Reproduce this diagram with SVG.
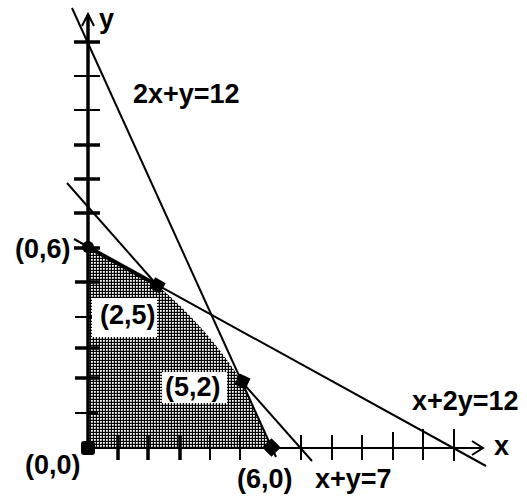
<svg xmlns="http://www.w3.org/2000/svg" width="527" height="502" viewBox="0 0 527 502">
<defs>
<pattern id="dots" width="3" height="3" patternUnits="userSpaceOnUse">
<rect width="3" height="3" fill="#000"/>
<rect x="1" y="1" width="1.8" height="1.8" fill="#fff"/>
</pattern>
<style>
text{font-family:"Liberation Sans",Arial,sans-serif;font-weight:bold;font-size:27px;fill:#000}
.ln{stroke:#000;stroke-width:2;fill:none}
.tk{stroke:#000;stroke-width:2}
.tkb{stroke:#000;stroke-width:3.5}
.pt{fill:#000}
</style>
</defs>
<rect width="527" height="502" fill="#fff"/>
<g id="region">
<path d="M88,448 L88,247 L157,285 Q207,327 242,382 L272,448 Z" fill="url(#dots)"/>
<path d="M88,247 L157,285" stroke="#000" stroke-width="4" fill="none"/>
</g>
<g id="axes">
<line x1="88" y1="448" x2="88" y2="15" stroke="#000" stroke-width="3.5"/>
<path d="M82,26 L88,14 L94,26" class="ln"/>
<line x1="88" y1="448" x2="483" y2="448" stroke="#000" stroke-width="2"/>
<path d="M472,441 L483,448 L472,455" class="ln"/>
<line class="tkb" x1="74" y1="42" x2="100" y2="42"/>
<line class="tk" x1="74" y1="76" x2="100" y2="76"/>
<line class="tk" x1="74" y1="110" x2="100" y2="110"/>
<line class="tkb" x1="74" y1="145" x2="100" y2="145"/>
<line class="tkb" x1="74" y1="179" x2="100" y2="179"/>
<line class="tkb" x1="74" y1="213" x2="100" y2="213"/>
<line class="tkb" x1="74" y1="248" x2="100" y2="248"/>
<line class="tkb" x1="75" y1="282" x2="100" y2="282"/>
<line class="tk" x1="75" y1="317" x2="98" y2="317"/>
<line class="tkb" x1="75" y1="348" x2="100" y2="348"/>
<line class="tkb" x1="75" y1="378" x2="100" y2="378"/>
<line class="tk" x1="75" y1="413" x2="98" y2="413"/>
<line class="tkb" x1="118" y1="436" x2="118" y2="460"/>
<line class="tkb" x1="148" y1="436" x2="148" y2="460"/>
<line class="tkb" x1="180" y1="436" x2="180" y2="460"/>
<line class="tk" x1="210" y1="436" x2="210" y2="460"/>
<line class="tk" x1="240" y1="436" x2="240" y2="460"/>
<line class="tk" x1="301" y1="435" x2="301" y2="460"/>
<line class="tk" x1="332" y1="435" x2="332" y2="460"/>
<line class="tk" x1="362" y1="435" x2="362" y2="460"/>
<line class="tk" x1="393" y1="432" x2="393" y2="460"/>
<line class="tk" x1="423" y1="429" x2="423" y2="460"/>
<line class="tk" x1="454" y1="429" x2="454" y2="461"/>
<text x="99" y="28">y</text>
<text x="494" y="455">x</text>
</g>
<g id="connectors">
<line class="ln" x1="72" y1="8" x2="276" y2="457"/>
<line class="ln" x1="67" y1="183" x2="157" y2="285"/>
<line class="ln" x1="242" y1="382" x2="312" y2="461"/>
<line class="ln" x1="74" y1="239" x2="486" y2="466"/>
<text x="133" y="103">2x+y=12</text>
<text x="315" y="488">x+y=7</text>
<text x="412" y="410">x+2y=12</text>
</g>
<g id="p00">
<rect class="pt" x="81" y="441" width="14" height="14" rx="3"/>
<text x="25" y="474">(0,0)</text>
</g>
<g id="p06">
<circle class="pt" cx="88" cy="247" r="6"/>
<text x="15" y="258">(0,6)</text>
</g>
<g id="p25">
<rect class="pt" x="151.5" y="279.5" width="12" height="12" transform="rotate(30 157.5 285.5)"/>
<rect x="92" y="298" width="65" height="39" fill="#fff"/>
<text x="100" y="324">(2,5)</text>
</g>
<g id="p52">
<rect class="pt" x="236.5" y="375.5" width="12" height="12" transform="rotate(25 242.5 381.5)"/>
<rect x="162" y="372" width="65" height="31" fill="#fff"/>
<text x="165" y="396">(5,2)</text>
</g>
<g id="p60">
<rect class="pt" x="265" y="441" width="13" height="13" transform="rotate(45 271.5 447.5)"/>
<text x="237" y="488">(6,0)</text>
</g>
</svg>
